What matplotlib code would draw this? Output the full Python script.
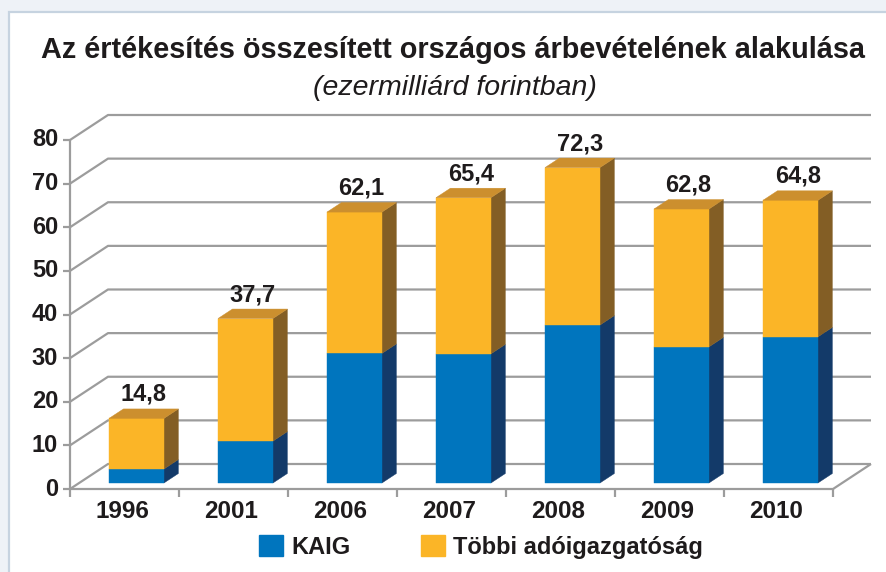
import matplotlib
matplotlib.use("Agg")
import matplotlib.pyplot as plt
from matplotlib.patches import Polygon, Rectangle, Patch

# ---- data ----
years = ["1996", "2001", "2006", "2007", "2008", "2009", "2010"]
totals = [14.8, 37.7, 62.1, 65.4, 72.3, 62.8, 64.8]
kaig = [3.2, 9.6, 29.7, 29.6, 36.2, 31.2, 33.5]
labels = ["14,8", "37,7", "62,1", "65,4", "72,3", "62,8", "64,8"]
yticks = [0, 10, 20, 30, 40, 50, 60, 70, 80]
series_names = ["KAIG", "Többi adóigazgatóság"]
title = "Az értékesítés összesített országos árbevételének alakulása"
subtitle = "(ezermilliárd forintban)"

# ---- style ----
BLUE, BLUE_SIDE = "#0075BE", "#133A69"
ORANGE, ORANGE_SIDE, ORANGE_TOP = "#FBB527", "#835E25", "#CC8F2E"
GRID = "#9C9C9C"
TXT = "#1E1B1C"
FONT = "Liberation Sans"
plt.rcParams["font.family"] = [FONT, "DejaVu Sans"]

W, H = 887, 572
fig = plt.figure(figsize=(W / 100, H / 100), dpi=100, facecolor="#EEF2F7")
fig.add_artist(Rectangle((9 / W, -0.01), 1.0, 1 - 12 / H + 0.01, transform=fig.transFigure,
                         facecolor="white", edgecolor="#C6D3E0", lw=1.6, zorder=0))
ax = fig.add_axes([0, 0, 1, 1])
ax.set_facecolor("none")
ax.axis("off")

PXC, PXV = 109.0, 4.3625      # px per category / per value unit
X0, Y0 = 70.0, 489.0          # front-left-bottom corner in pixels (from top)
left = -0.5 - X0 / PXC
bottom = -(H - Y0) / PXV
ax.set_xlim(left, left + W / PXC)
ax.set_ylim(bottom, bottom + H / PXV)

DX, DY = 38 / PXC, 25 / PXV   # depth offset
n = len(years)
xa, xb = -0.5, n - 0.5
ymax = yticks[-1]

def P(x, y, z):
    return (x + z * DX, y + z * DY)

def line(pts, **kw):
    ax.plot([p[0] for p in pts], [p[1] for p in pts], color=GRID, lw=1.6,
            solid_capstyle="butt", zorder=1, **kw)

# grid: left wall diagonals + back wall horizontals
for v in yticks:
    line([P(xa, v, 0), P(xa, v, 1), P(xb, v, 1)])
    line([(xa - 7 / PXC, v), (xa, v)])
    ax.text(xa - 12 / PXC, v, str(v), ha="right", va="center", fontsize=17,
            fontweight="bold", color=TXT)
# floor
line([P(xa, 0, 0), P(xb, 0, 0), P(xb, 0, 1)])
line([P(xa, 0, 0), P(xa, ymax, 0)])
for i in range(n + 1):
    xt = xa + i
    line([(xt, 0), (xt, -8 / PXV)])

# bars
z1, z2 = 0.24, 0.62
hw = 0.252
def poly(pts, c, zo):
    ax.add_patch(Polygon(pts, closed=True, facecolor=c, edgecolor=c, lw=0.3, zorder=zo))

for i in range(n):
    xl = i + 0.026 - hw
    xr = i + 0.026 + hw
    segs = [(0, kaig[i], BLUE, BLUE_SIDE), (kaig[i], totals[i], ORANGE, ORANGE_SIDE)]
    for y0, y1, cf, cs in segs:
        poly([P(xr, y0, z1), P(xr, y0, z2), P(xr, y1, z2), P(xr, y1, z1)], cs, 3)
        poly([P(xl, y0, z1), P(xr, y0, z1), P(xr, y1, z1), P(xl, y1, z1)], cf, 4)
    t = totals[i]
    poly([P(xl, t, z1), P(xr, t, z1), P(xr, t, z2), P(xl, t, z2)], ORANGE_TOP, 4)
    cx, cy = P(i + 0.026, t, (z1 + z2) / 2)
    _, ty = P(0, t, z2)
    ax.text(cx, ty + 3 / PXV, labels[i], ha="center", va="bottom", fontsize=17,
            fontweight="bold", color=TXT, zorder=5)
    ax.text(i - 0.02, -22 / PXV, years[i], ha="center", va="center", fontsize=17.5,
            fontweight="bold", color=TXT)

# titles
ax.text(3.01, (Y0 - 50) / PXV, title, ha="center", va="center", fontsize=20.8,
        fontweight="bold", color=TXT)
ax.text(3.03, (Y0 - 88) / PXV, subtitle, ha="center", va="center", fontsize=20.5,
        style="italic", color=TXT)

handles = [Patch(facecolor=BLUE, edgecolor=BLUE), Patch(facecolor=ORANGE, edgecolor=ORANGE)]
leg = ax.legend(handles, series_names, loc="center", bbox_to_anchor=(481 / W, 25 / H),
                ncol=2, frameon=False, handlelength=1.0, handleheight=1.0,
                handletextpad=0.35, columnspacing=3.0,
                prop={"family": FONT, "weight": "bold", "size": 17})
for t in leg.get_texts():
    t.set_color(TXT)

fig.savefig("out.png", dpi=100, facecolor=fig.get_facecolor())
